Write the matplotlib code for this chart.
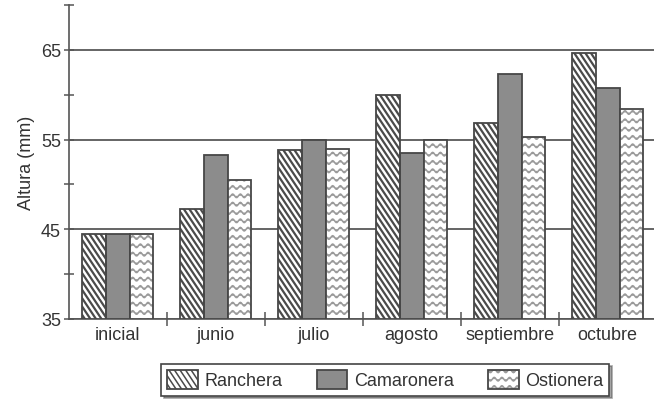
#!/usr/bin/env python3

import warnings
import numpy as np
import matplotlib

matplotlib.use("Agg")
import matplotlib.pyplot as plt
import matplotlib.hatch as mhatch
from matplotlib.path import Path
from matplotlib.patches import Patch

warnings.filterwarnings("ignore")

categories = ["inicial", "junio", "julio", "agosto", "septiembre", "octubre"]
series_names = ["Ranchera", "Camaronera", "Ostionera"]
ranchera = [44.5, 47.3, 53.8, 60.0, 56.8, 64.7]
camaronera = [44.5, 53.3, 54.9, 53.5, 62.3, 60.7]
ostionera = [44.5, 50.5, 53.9, 54.9, 55.3, 58.4]


# wavy hatch ("~"), not available in matplotlib by default
class WavyHatch(mhatch.HatchPatternBase):
    def __init__(self, hatch, density):
        self.num_rows = int(hatch.count("~") * density)
        self.pts = 120
        self.num_vertices = self.num_rows * self.pts

    def set_vertices_and_codes(self, vertices, codes):
        x = np.linspace(0.0, 1.0, self.pts)
        for i in range(self.num_rows):
            y = (i + 0.5) / self.num_rows + 0.018 * np.sin(2 * np.pi * 13 * x)
            sl = slice(i * self.pts, (i + 1) * self.pts)
            vertices[sl, 0] = x
            vertices[sl, 1] = y
            codes[sl] = Path.LINETO
            codes[i * self.pts] = Path.MOVETO


# steep "\" stripes ("N"), steeper than the built-in 45 degree hatch
class SteepHatch(mhatch.HatchPatternBase):
    def __init__(self, hatch, density):
        self.n = 12 if "N" in hatch else 0
        self.m = 18 / 12
        self.count = int(np.ceil((1 + self.m) * self.n)) + 1 if self.n else 0
        self.num_vertices = self.count * 2

    def set_vertices_and_codes(self, vertices, codes):
        c = np.arange(self.count) / self.n
        vertices[0::2, 0] = 0.0
        vertices[0::2, 1] = c
        vertices[1::2, 0] = 1.0
        vertices[1::2, 1] = c - self.m
        codes[0::2] = Path.MOVETO
        codes[1::2] = Path.LINETO


mhatch._hatch_types.append(WavyHatch)
mhatch._hatch_types.append(SteepHatch)

plt.rcParams["font.family"] = ["Liberation Sans", "DejaVu Sans"]

fig = plt.figure(figsize=(6.54, 4.02), dpi=100)
ax = fig.add_axes([0.105, 0.204, 0.899, 0.781])

edge = "#474747"
x = np.arange(len(categories))
w = 0.243

styles = [
    dict(fill="white", hatch="N", hcol="#4a4a4a", hlw=1.6),
    dict(fill="#8c8c8c", hatch=None, hcol=None, hlw=1.0),
    dict(fill="white", hatch="~~", hcol="#9a9a9a", hlw=1.1),
]
data = [ranchera, camaronera, ostionera]


def set_hlw(patch, lw):
    if hasattr(patch, "set_hatch_linewidth"):
        patch.set_hatch_linewidth(lw)


bottom = 35
handles = []
for k, (vals, st) in enumerate(zip(data, styles)):
    pos = x + (k - 1) * w
    heights = np.array(vals) - bottom
    plt.rcParams["hatch.linewidth"] = st["hlw"]
    if st["hatch"]:
        bars = ax.bar(pos, heights, w, bottom=bottom, color=st["fill"],
                      hatch=st["hatch"], edgecolor=st["hcol"], linewidth=0,
                      zorder=3)
        for b in bars:
            set_hlw(b, st["hlw"])
        ax.bar(pos, heights, w, bottom=bottom, fill=False,
               edgecolor=edge, linewidth=1.3, zorder=4)
        hp = Patch(facecolor=st["fill"], hatch=st["hatch"],
                   edgecolor=st["hcol"], linewidth=0)
        set_hlw(hp, st["hlw"])
        h = (hp, Patch(fill=False, edgecolor=edge, linewidth=1.3))
    else:
        ax.bar(pos, heights, w, bottom=bottom, color=st["fill"],
               edgecolor=edge, linewidth=1.3, zorder=3)
        h = Patch(facecolor=st["fill"], edgecolor=edge, linewidth=1.3)
    handles.append(h)

ax.set_xlim(-0.5, len(categories) - 0.5)
ax.set_ylim(35, 70)

ax.set_yticks([35, 45, 55, 65])
ax.set_yticks([40, 50, 60, 70], minor=True)
ax.set_xticks(x)
ax.set_xticklabels(categories)
ax.set_xticks(x[:-1] + 0.5, minor=True)

ax.yaxis.grid(True, which="major", color="#4a4a4a", linewidth=1.2, zorder=1)
ax.set_axisbelow(True)

for s in ["top", "right"]:
    ax.spines[s].set_visible(False)
for s in ["left", "bottom"]:
    ax.spines[s].set_color("#555555")
    ax.spines[s].set_linewidth(1.2)

ax.tick_params(axis="y", which="both", direction="inout", length=7,
               width=1.1, color="#555555", labelsize=13, labelcolor="#333333",
               pad=2)
ax.tick_params(axis="x", which="major", length=0, labelsize=13,
               labelcolor="#333333", pad=5)
ax.tick_params(axis="x", which="minor", direction="inout", length=10,
               width=1.1, color="#555555")

ax.set_ylabel("Altura (mm)", fontsize=13, color="#333333", labelpad=4)

leg = fig.legend(handles, series_names, loc="center",
                 bbox_to_anchor=(0.589, 0.053), ncol=3, fontsize=13,
                 frameon=True, fancybox=False, shadow=True,
                 handlelength=1.7, handleheight=1.2, handletextpad=0.35,
                 columnspacing=1.9, borderpad=0.35, labelcolor="#333333")
leg.get_frame().set_edgecolor("#444444")
leg.get_frame().set_linewidth(1.2)

fig.savefig("out.png", dpi=100)
plt.close(fig)
